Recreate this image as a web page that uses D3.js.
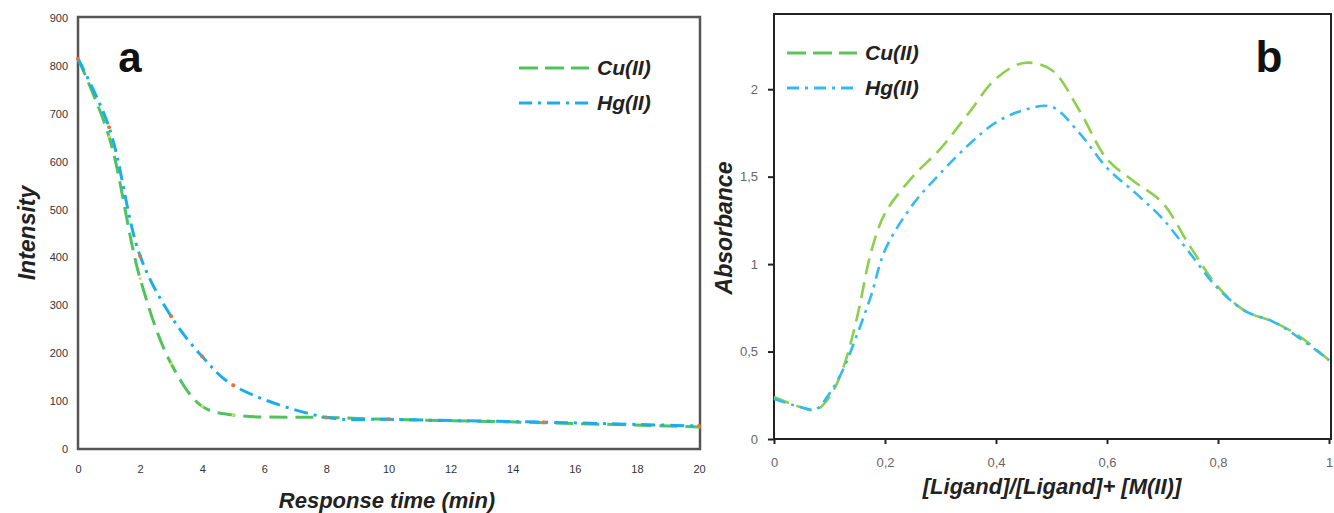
<!DOCTYPE html>
<html>
<head>
<meta charset="utf-8">
<script src="https://cdn.jsdelivr.net/npm/d3@7"></script>
<style>
  html, body { margin: 0; padding: 0; background: #fff; }
  svg { display: block; }
  text { font-family: "Liberation Sans", Arial, sans-serif; }
</style>
</head>
<body>
<svg id="chart" width="1334" height="513"></svg>
<script>
// ---- Panel a: fluorescence intensity vs response time ----
const timeMin     = [0, 1, 2, 3, 4, 5, 8, 10, 15, 20];
const cuIntensity = [815, 652, 356, 178, 89, 71, 66, 62, 55, 46];
const hgIntensity = [815, 672, 403, 277, 193, 133, 66, 62, 56, 48];
const timeTicks   = [0, 2, 4, 6, 8, 10, 12, 14, 16, 18, 20];
const intensityTicks = [0, 100, 200, 300, 400, 500, 600, 700, 800, 900];

// ---- Panel b: Job's plot, absorbance vs mole fraction ----
const ligandRatio = [0, 0.05, 0.075, 0.1, 0.125, 0.15, 0.175, 0.2, 0.25, 0.3, 0.35, 0.4,
                     0.45, 0.5, 0.55, 0.6, 0.65, 0.7, 0.75, 0.8, 0.85, 0.9, 0.95, 1];
const cuAbsorbance = [0.24, 0.18, 0.165, 0.24, 0.41, 0.70, 1.07, 1.29, 1.50, 1.66, 1.86, 2.06,
                      2.15, 2.11, 1.88, 1.60, 1.47, 1.35, 1.10, 0.87, 0.73, 0.67, 0.58, 0.45];
const hgAbsorbance = [0.23, 0.18, 0.17, 0.26, 0.40, 0.60, 0.82, 1.08, 1.34, 1.52, 1.68, 1.81,
                      1.88, 1.90, 1.75, 1.55, 1.41, 1.26, 1.06, 0.86, 0.73, 0.67, 0.57, 0.45];
const ratioTicks = [0, 0.2, 0.4, 0.6, 0.8, 1];
const absorbanceTicks = [0, 0.5, 1, 1.5, 2];

const seriesNames = ["Cu(II)", "Hg(II)"];

const svg = d3.select("#chart");
const commaFmt = d3.formatLocale({ decimal: ",", thousands: ".", grouping: [3], currency: ["", ""] }).format("~f");

// ================= Panel a =================
const xA = d3.scaleLinear().domain([0, 20]).range([78, 699]);
const yA = d3.scaleLinear().domain([0, 900]).range([449, 18]);
const gA = svg.append("g");

gA.append("rect")
  .attr("x", xA(0)).attr("y", yA(900) - 1)
  .attr("width", xA(20) - xA(0) + 1).attr("height", yA(0) - yA(900) + 1)
  .attr("fill", "none").attr("stroke", "#555").attr("stroke-width", 2.5);

const axAx = gA.append("g").attr("transform", `translate(0,${yA(0)})`)
  .call(d3.axisBottom(xA).tickValues(timeTicks).tickSize(0).tickPadding(16).tickFormat(d3.format("d")));
const axAy = gA.append("g").attr("transform", `translate(${xA(0)},0)`)
  .call(d3.axisLeft(yA).tickValues(intensityTicks).tickSize(0).tickPadding(10).tickFormat(d3.format("d")));
[axAx, axAy].forEach(ax => {
  ax.select(".domain").remove();
  ax.selectAll("text").attr("font-size", 11).attr("fill", "#333").attr("font-family", "Liberation Sans, sans-serif");
});

const lineA = data => d3.line().x(d => xA(d[0])).y(d => yA(d[1])).curve(d3.curveCatmullRom.alpha(0.5))(data);
const cuA = timeMin.map((t, i) => [t, cuIntensity[i]]);
const hgA = timeMin.map((t, i) => [t, hgIntensity[i]]);

const greenA = "#4fc35e", blueA = "#19aeea";
gA.append("path").attr("d", lineA(cuA)).attr("fill", "none")
  .attr("stroke", greenA).attr("stroke-width", 3).attr("stroke-dasharray", "18,8");
gA.append("path").attr("d", lineA(hgA)).attr("fill", "none")
  .attr("stroke", blueA).attr("stroke-width", 3).attr("stroke-dasharray", "14,6,3,6");

// data point markers
gA.selectAll(".cuPt").data(cuA).enter().append("circle")
  .attr("cx", d => xA(d[0])).attr("cy", d => yA(d[1])).attr("r", 1.6).attr("fill", "#d6e04a");
gA.selectAll(".hgPt").data(hgA).enter().append("circle")
  .attr("cx", d => xA(d[0])).attr("cy", d => yA(d[1])).attr("r", 2).attr("fill", "#e8733a");

gA.append("text").attr("x", 130).attr("y", 72).attr("text-anchor", "middle")
  .attr("font-family", "Lato, sans-serif").attr("font-weight", 700).attr("font-size", 42).attr("fill", "#111").text("a");

// legend a
const legA = [{ y: 68, col: greenA, dash: "19,7", name: seriesNames[0] },
              { y: 103, col: blueA, dash: "13,6,3,6", name: seriesNames[1] }];
legA.forEach(l => {
  gA.append("line").attr("x1", 519).attr("x2", 589).attr("y1", l.y).attr("y2", l.y)
    .attr("stroke", l.col).attr("stroke-width", 3).attr("stroke-dasharray", l.dash);
  gA.append("text").attr("x", 597).attr("y", l.y + 7).attr("font-size", 21)
    .attr("font-weight", "bold").attr("font-style", "italic").attr("fill", "#222").text(l.name);
});

gA.append("text").attr("x", 387).attr("y", 508).attr("text-anchor", "middle")
  .attr("font-size", 22).attr("font-weight", "bold").attr("font-style", "italic").attr("fill", "#222")
  .text("Response time (min)");
gA.append("text").attr("transform", "translate(35,233) rotate(-90)").attr("text-anchor", "middle")
  .attr("font-size", 23).attr("font-weight", "bold").attr("font-style", "italic").attr("fill", "#222")
  .text("Intensity");

// ================= Panel b =================
const xB = d3.scaleLinear().domain([0, 1]).range([774, 1329]);
const yB = d3.scaleLinear().domain([0, 2.43]).range([439, 14]);
const gB = svg.append("g");

gB.append("rect")
  .attr("x", xB(0)).attr("y", yB(2.43))
  .attr("width", 1331 - xB(0)).attr("height", yB(0) - yB(2.43))
  .attr("fill", "none").attr("stroke", "#222").attr("stroke-width", 2);

const axBx = gB.append("g").attr("transform", `translate(0,${yB(0)})`)
  .call(d3.axisBottom(xB).tickValues(ratioTicks).tickSize(5).tickPadding(14).tickFormat(commaFmt));
const axBy = gB.append("g").attr("transform", `translate(${xB(0)},0)`)
  .call(d3.axisLeft(yB).tickValues(absorbanceTicks).tickSize(6).tickPadding(10).tickFormat(commaFmt));
[axBx, axBy].forEach(ax => {
  ax.select(".domain").remove();
  ax.selectAll("line").attr("stroke", "#222").attr("stroke-width", 2);
  ax.selectAll("text").attr("font-size", 13).attr("fill", "#666").attr("font-family", "Liberation Sans, sans-serif");
});

const lineB = data => d3.line().x(d => xB(d[0])).y(d => yB(d[1])).curve(d3.curveCatmullRom.alpha(0.5))(data);
const cuB = ligandRatio.map((r, i) => [r, cuAbsorbance[i]]);
const hgB = ligandRatio.map((r, i) => [r, hgAbsorbance[i]]);

const greenB = "#8ccf4a", blueB = "#33bbf0";
gB.append("path").attr("d", lineB(cuB)).attr("fill", "none")
  .attr("stroke", greenB).attr("stroke-width", 2.6).attr("stroke-dasharray", "16,8");
gB.append("path").attr("d", lineB(hgB)).attr("fill", "none")
  .attr("stroke", blueB).attr("stroke-width", 2.6).attr("stroke-dasharray", "12,6,3,6");

gB.append("text").attr("x", 1269).attr("y", 72).attr("text-anchor", "middle")
  .attr("font-family", "Lato, sans-serif").attr("font-weight", 700).attr("font-size", 44).attr("fill", "#111").text("b");

// legend b
const legB = [{ y: 53, col: "#5cc45a", dash: "19,7", name: seriesNames[0] },
              { y: 88, col: blueB, dash: "12,6,3,6", name: seriesNames[1] }];
legB.forEach(l => {
  gB.append("line").attr("x1", 787).attr("x2", 857).attr("y1", l.y).attr("y2", l.y)
    .attr("stroke", l.col).attr("stroke-width", 3).attr("stroke-dasharray", l.dash);
  gB.append("text").attr("x", 865).attr("y", l.y + 7).attr("font-size", 21)
    .attr("font-weight", "bold").attr("font-style", "italic").attr("fill", "#222").text(l.name);
});

gB.append("text").attr("x", 1052).attr("y", 494).attr("text-anchor", "middle")
  .attr("font-size", 22).attr("font-weight", "bold").attr("font-style", "italic").attr("fill", "#222")
  .text("[Ligand]/[Ligand]+ [M(II)]");
gB.append("text").attr("transform", "translate(732,228) rotate(-90)").attr("text-anchor", "middle")
  .attr("font-size", 23).attr("font-weight", "bold").attr("font-style", "italic").attr("fill", "#222")
  .text("Absorbance");
</script>
</body>
</html>
